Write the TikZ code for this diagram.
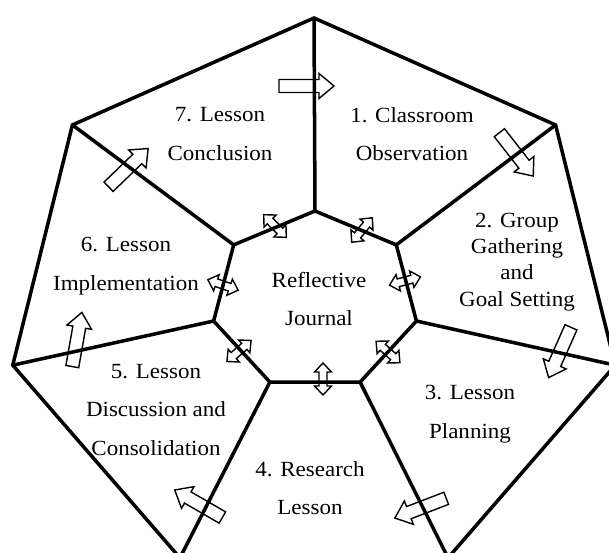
\documentclass[tikz,border=0pt]{standalone}
\usepackage{fontspec}
\setmainfont{Liberation Serif}[FakeStretch=1.065]

\begin{document}
\begin{tikzpicture}[
  x=0.02cm, y=-0.02cm,
  frame/.style={line width=2pt},
  arrowline/.style={line width=0.8pt},
  stage/.style={align=center,font=\fontsize{12.3}{22}\selectfont},
  flowarrow/.pic={\draw[arrowline] (-27,-6.5) -- (13,-6.5) -- (13,-12.5) -- (28,0)
    -- (13,12.5) -- (13,6.5) -- (-27,6.5) -- cycle;},
  swaparrow/.pic={\draw[arrowline] (-16,0) -- (-7,-8.5) -- (-7,-4) -- (7,-4) -- (7,-8.5)
    -- (16,0) -- (7,8.5) -- (7,4) -- (-7,4) -- (-7,8.5) -- cycle;}
]
\useasboundingbox (0,0) rectangle (609,553);
\clip (0,0) rectangle (609,553);
\foreach \k in {0,...,6} {
  \coordinate (o\k) at ({314+309*cos(90-\k*360/7)},{302-284*sin(90-\k*360/7)});
  \coordinate (i\k) at ({315+104*cos(90-\k*360/7)},{301-90*sin(90-\k*360/7)});
}
\draw[frame] (o0) -- (o1) -- (o2) -- (o3) -- (o4) -- (o5) -- (o6) -- cycle;
\draw[frame] (i0) -- (i1) -- (i2) -- (i3) -- (i4) -- (i5) -- (i6) -- cycle;
\foreach \k in {0,...,6} \draw[frame] (o\k) -- (i\k);

\node[stage] (s1) at (412,134) {1. Classroom\\Observation};
\node[stage,font=\fontsize{12.3}{15}\selectfont] (s2) at (517,262)
  {2. Group\\Gathering\\and\\Goal Setting};
\node[stage] (s3) at (470,414) {3. Lesson\\Planning};
\node[stage] (s4) at (310,488) {4. Research\\Lesson};
\node[stage] (s5) at (156,410) {5. Lesson\\Discussion and\\Consolidation};
\node[stage] (s6) at (126,266) {6. Lesson\\Implementation};
\node[stage] (s7) at (220,134) {7. Lesson\\Conclusion};
\node[stage] (rj) at (319,299) {Reflective\\Journal};

\foreach \x/\y/\a in {306/86/0, 516/154/-52, 560/352/-114, 421/508/-159,
                      199/504/150, 77/340/80, 128/168/44}
  \pic[rotate=\a] at (\x,\y) {flowarrow};
\foreach \x/\y/\a in {275/226/135, 362/230/50, 405/281/15, 223/285/-19,
                      388/352/-42, 239/351/41, 323/379/90}
  \pic[rotate=\a] at (\x,\y) {swaparrow};
\end{tikzpicture}
\end{document}
